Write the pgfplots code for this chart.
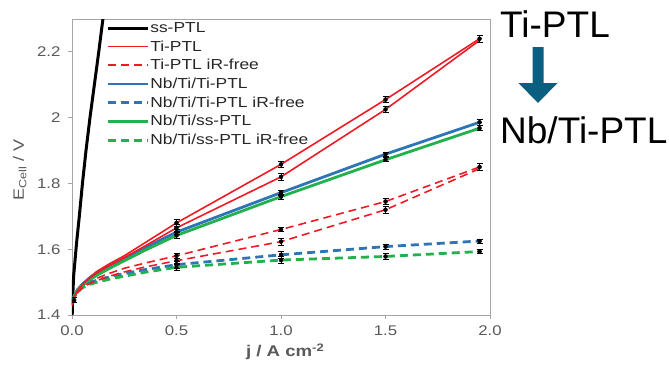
\documentclass[border=0pt]{standalone}
\usepackage{fontspec}
\setmainfont{Liberation Sans}
\newfontfamily\wfont[FakeStretch=1.2]{Liberation Sans}
\usepackage{pgfplots}
\pgfplotsset{compat=1.18}
\definecolor{cred}{RGB}{237,28,36}
\definecolor{cblue}{RGB}{46,117,182}
\definecolor{cgreen}{RGB}{34,177,76}
\definecolor{cgrid}{RGB}{166,166,166}
\definecolor{ctext}{RGB}{89,89,89}
\definecolor{clegtext}{RGB}{38,38,38}
\definecolor{carrow}{RGB}{10,95,128}
\begin{document}
\begin{tikzpicture}
\useasboundingbox (-72pt,-50pt) rectangle (597pt,315pt);
\begin{axis}[
  scale only axis,
  width=418pt, height=296pt,
  xmin=0, xmax=2.0, ymin=1.4, ymax=2.3,
  xtick={0,0.5,1.0,1.5,2.0},
  xticklabels={0.0,0.5,1.0,1.5,2.0},
  ytick={1.4,1.6,1.8,2.0,2.2},
  yticklabels={1.4,1.6,1.8,2,2.2},
  /pgf/number format/assume math mode=true,
  axis line style={cgrid, line width=0.9pt},
  tick style={cgrid, line width=0.8pt},
  tick align=outside,
  major tick length=4pt,
  xtick pos=left, ytick pos=left,
  ticklabel style={font=\wfont\fontsize{14}{16}\selectfont, text=ctext},
  xticklabel style={yshift=-3pt},
  yticklabel style={xshift=-4pt},
  xlabel={\textbf{j / A cm\textsuperscript{-2}}},
  ylabel={E\textsubscript{Cell} / V},
  xlabel style={font=\wfont\fontsize{15.5}{17}\selectfont, text=ctext, at={(axis description cs:0.51,-0.125)}, anchor=center},
  ylabel style={font=\wfont\fontsize{15}{17}\selectfont, text=ctext, at={(axis description cs:-0.125,0.49)}, anchor=center},
  clip=true,
  legend style={draw=none, fill=none, at={(axis description cs:0.074,1.0)}, anchor=north west,
    font=\wfont\fontsize{14.5}{16}\selectfont, text=clegtext, row sep=4.3pt,
    nodes={inner sep=1.2pt}},
  legend cell align=left,
  legend image code/.code={\draw[#1] (0pt,0pt) -- (40pt,0pt);},
]
% ss-PTL
\addplot[black, line width=3pt] coordinates {
(0.001,1.40) (0.003,1.45) (0.008,1.52) (0.015,1.57) (0.022,1.62) (0.035,1.70)
(0.05,1.80) (0.067,1.90) (0.086,2.00) (0.107,2.10) (0.128,2.20) (0.14,2.26) (0.15,2.31)};
\addlegendentry{ss-PTL}
% Ti-PTL
\addplot[cred, line width=1.6pt] coordinates {
(0,1.43) (0.01,1.455) (0.025,1.475) (0.05,1.495) (0.08,1.513) (0.12,1.533) (0.18,1.556) (0.25,1.58) (0.35,1.62)
(0.5,1.68) (1.0,1.858) (1.5,2.055) (1.95,2.24)};
\addlegendentry{Ti-PTL}
% Ti-PTL iR-free
\addplot[cred, line width=1.6pt, dash pattern=on 8pt off 5pt] coordinates {
(0,1.43) (0.01,1.452) (0.025,1.47) (0.05,1.487) (0.08,1.499) (0.12,1.512) (0.18,1.527) (0.25,1.542) (0.35,1.558)
(0.5,1.58) (1.0,1.66) (1.5,1.745) (1.95,1.85)};
\addlegendentry{Ti-PTL iR-free}
% Nb/Ti/Ti-PTL
\addplot[cblue, line width=2.8pt] coordinates {
(0,1.44) (0.01,1.458) (0.025,1.476) (0.05,1.494) (0.08,1.51) (0.12,1.527) (0.18,1.548) (0.25,1.572) (0.35,1.605)
(0.5,1.652) (1.0,1.772) (1.5,1.889) (1.95,1.986)};
\addlegendentry{Nb/Ti/Ti-PTL}
% Nb/Ti/Ti-PTL iR-free
\addplot[cblue, line width=2.8pt, dash pattern=on 8pt off 5pt] coordinates {
(0,1.44) (0.01,1.456) (0.025,1.472) (0.05,1.487) (0.08,1.497) (0.12,1.506) (0.18,1.516) (0.25,1.526) (0.35,1.538)
(0.5,1.553) (1.0,1.583) (1.5,1.608) (1.95,1.625)};
\addlegendentry{Nb/Ti/Ti-PTL iR-free}
% Nb/Ti/ss-PTL
\addplot[cgreen, line width=2.8pt] coordinates {
(0,1.44) (0.01,1.455) (0.025,1.473) (0.05,1.49) (0.08,1.505) (0.12,1.521) (0.18,1.542) (0.25,1.565) (0.35,1.597)
(0.5,1.642) (1.0,1.760) (1.5,1.872) (1.95,1.968)};
\addlegendentry{Nb/Ti/ss-PTL}
% Nb/Ti/ss-PTL iR-free
\addplot[cgreen, line width=2.8pt, dash pattern=on 8pt off 5pt] coordinates {
(0,1.44) (0.01,1.453) (0.025,1.469) (0.05,1.483) (0.08,1.492) (0.12,1.5) (0.18,1.509) (0.25,1.518) (0.35,1.53)
(0.5,1.545) (1.0,1.567) (1.5,1.578) (1.95,1.593)};
\addlegendentry{Nb/Ti/ss-PTL iR-free}
% second Ti-PTL curves
\addplot[cred, line width=1.6pt, forget plot] coordinates {
(0,1.43) (0.01,1.453) (0.025,1.472) (0.05,1.492) (0.08,1.51) (0.12,1.529) (0.18,1.551) (0.25,1.574) (0.35,1.61)
(0.5,1.665) (1.0,1.82) (1.5,2.025) (1.95,2.235)};
\addplot[cred, line width=1.6pt, dash pattern=on 8pt off 5pt, forget plot] coordinates {
(0,1.43) (0.01,1.45) (0.025,1.467) (0.05,1.483) (0.08,1.494) (0.12,1.505) (0.18,1.518) (0.25,1.531) (0.35,1.546)
(0.5,1.565) (1.0,1.623) (1.5,1.72) (1.95,1.845)};
% error bars
\addplot[only marks, mark=none, forget plot,
  error bars/.cd, y dir=both, y explicit,
  error bar style={black, line width=0.8pt},
  error mark options={rotate=90, black, mark size=3pt, line width=0.8pt}] coordinates {
(0.01,1.445) +- (0,0.008)
(0.5,1.68) +- (0,0.01) (1.0,1.858) +- (0,0.008) (1.5,2.055) +- (0,0.01) (1.95,2.24) +- (0,0.01)
(0.5,1.665) +- (0,0.01) (1.0,1.82) +- (0,0.01) (1.5,2.025) +- (0,0.01)
(0.5,1.58) +- (0,0.008) (1.0,1.66) +- (0,0.007) (1.5,1.745) +- (0,0.01) (1.95,1.85) +- (0,0.01)
(0.5,1.565) +- (0,0.008) (1.0,1.623) +- (0,0.01) (1.5,1.72) +- (0,0.01)
(0.5,1.652) +- (0,0.008) (1.0,1.772) +- (0,0.008) (1.5,1.889) +- (0,0.006) (1.95,1.986) +- (0,0.008)
(0.5,1.642) +- (0,0.008) (1.0,1.760) +- (0,0.008) (1.5,1.872) +- (0,0.006) (1.95,1.968) +- (0,0.008)
(0.5,1.553) +- (0,0.01) (1.0,1.583) +- (0,0.01) (1.5,1.608) +- (0,0.008) (1.95,1.625) +- (0,0.006)
(0.5,1.545) +- (0,0.01) (1.0,1.567) +- (0,0.01) (1.5,1.578) +- (0,0.008) (1.95,1.593) +- (0,0.006)
};
\end{axis}
% annotation
\node[anchor=base west, inner sep=0pt, font=\fontsize{37}{40}\selectfont] at (428pt,278pt) {Ti-PTL};
\node[anchor=base west, inner sep=0pt, font=\fontsize{37}{40}\selectfont] at (428pt,172pt) {Nb/Ti-PTL};
\fill[carrow] (460.5pt,268pt) -- (471.5pt,268pt) -- (471.5pt,232pt) -- (485.5pt,232pt)
  -- (466pt,212pt) -- (446.5pt,232pt) -- (460.5pt,232pt) -- cycle;
\end{tikzpicture}
\end{document}
